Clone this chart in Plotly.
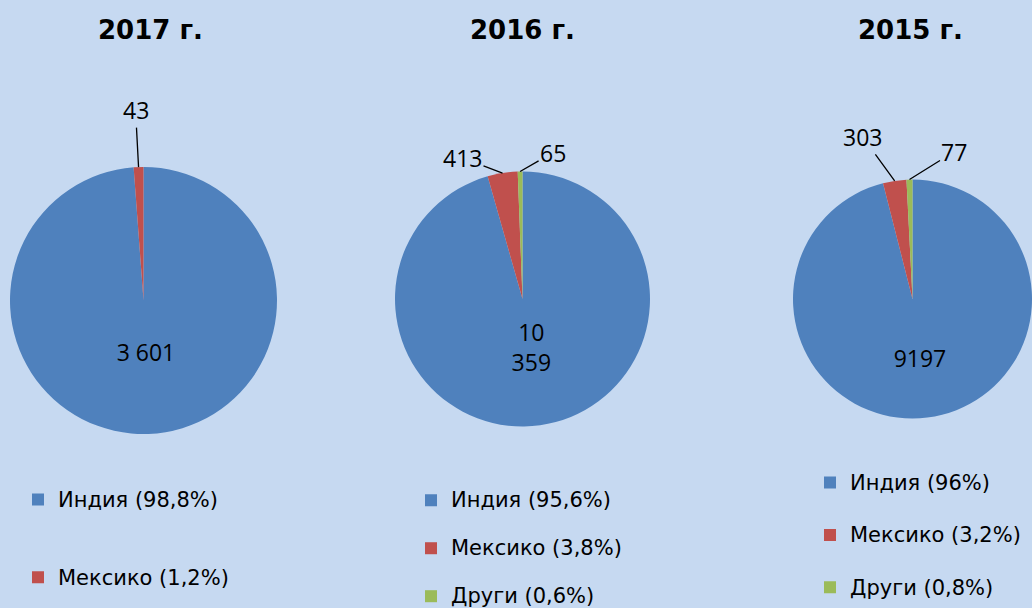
import math
import plotly.graph_objects as go

# ---------------- data ----------------
years = ["2017 г.", "2016 г.", "2015 г."]

countries_2017 = ["Индия", "Мексико"]
values_2017 = [3601, 43]
value_text_2017 = ["3 601", "43"]
pct_2017 = ["98,8%", "1,2%"]

countries_2016 = ["Индия", "Мексико", "Други"]
values_2016 = [10359, 413, 65]
value_text_2016 = ["10<br>359", "413", "65"]
pct_2016 = ["95,6%", "3,8%", "0,6%"]

countries_2015 = ["Индия", "Мексико", "Други"]
values_2015 = [9197, 303, 77]
value_text_2015 = ["9197", "303", "77"]
pct_2015 = ["96%", "3,2%", "0,8%"]

# ---------------- style / layout ----------------
W, H = 1032, 608
BG = "#C6D9F1"
colors = {"Индия": "#4F81BD", "Мексико": "#C0504D", "Други": "#9BBB59"}
LABEL_FONT = "Open Sans"
LEGEND_FONT = "DejaVu Sans"
TITLE_FONT = "DejaVu Sans"
VALUE_SIZE = 23
LEGEND_SIZE = 21

# pie geometry in pixels (center x, center y, radius)
geom = [(143.5, 300.5, 133.5), (522.5, 299.0, 127.5), (912.5, 299.0, 119.5)]
title_x = [150, 522, 910]
# blank lines appended below the inside label (lifts it inside the slice)
inside_pad_lines = [1, 1, 0]
# outside label offsets (px) for the small slices
label_offsets = [
    [(-3, -57)],
    [(-40, -15), (33, -19)],
    [(-32, -44), (45, -28)],
]
# legend: (x px of legend box, y px top, line-spacing font size, lines per item)
legend_pos = [(18, 480.5, 19.2, 3), (411, 482.5, 17.3, 2), (810, 463.7, 19.0, 2)]

datasets = [
    (countries_2017, values_2017, value_text_2017, pct_2017),
    (countries_2016, values_2016, value_text_2016, pct_2016),
    (countries_2015, values_2015, value_text_2015, pct_2015),
]

fig = go.Figure()
annotations = []
legend_names = ["legend", "legend2", "legend3"]

for k, (countries, values, vtext, pct) in enumerate(datasets):
    cx, cy, r = geom[k]
    dom_x = [max(0, (cx - r) / W), min(1, (cx + r) / W)]
    dom_y = [max(0, 1 - (cy + r) / H), min(1, 1 - (cy - r) / H)]
    n_lines = legend_pos[k][3]
    labels = []
    for j, (c, p) in enumerate(zip(countries, pct)):
        lab = f"<span style='font-size:{LEGEND_SIZE}px'>{c} ({p})</span>"
        if j < len(countries) - 1:
            lab += "<br>\u00a0" * (n_lines - 1)
        labels.append(lab)
    text = [vtext[0] + "<br>\u00a0" * inside_pad_lines[k]] + [""] * (len(values) - 1)
    fig.add_trace(go.Pie(
        labels=labels,
        values=values,
        text=text,
        textinfo="text",
        textposition="inside",
        insidetextorientation="horizontal",
        textfont=dict(family=LABEL_FONT, size=VALUE_SIZE, color="black"),
        marker=dict(colors=[colors[c] for c in countries], line=dict(width=0)),
        sort=False,
        direction="clockwise",
        rotation=0,
        domain=dict(x=dom_x, y=dom_y),
        legend=legend_names[k],
        hoverinfo="value+percent",
    ))
    total = sum(values)
    cum = 0
    for i, v in enumerate(values):
        if i > 0:
            theta = 2 * math.pi * (cum + v / 2) / total
            tx = cx + r * math.sin(theta)
            ty = cy - r * math.cos(theta)
            ax, ay = label_offsets[k][i - 1]
            annotations.append(dict(
                x=tx / W, y=1 - ty / H, xref="paper", yref="paper",
                text=vtext[i], showarrow=True, ax=ax, ay=ay,
                arrowhead=0, arrowwidth=1.3, arrowcolor="black",
                standoff=0, startstandoff=0,
                font=dict(family=LABEL_FONT, size=VALUE_SIZE, color="black"),
            ))
        cum += v
    annotations.append(dict(
        x=title_x[k] / W, y=1 - 30 / H, xref="paper", yref="paper",
        text=years[k], showarrow=False, xanchor="center", yanchor="middle",
        font=dict(family=TITLE_FONT, size=26, color="black", weight="bold"),
    ))

layout_legends = {}
for k, name in enumerate(legend_names):
    lx, ly, fs, _ = legend_pos[k]
    layout_legends[name] = dict(
        x=lx / W, y=1 - ly / H, xanchor="left", yanchor="top",
        font=dict(family=LEGEND_FONT, size=fs, color="black"),
        bgcolor="rgba(0,0,0,0)", borderwidth=0, valign="top",
        orientation="v",
    )

fig.update_layout(
    width=W, height=H,
    margin=dict(l=0, r=0, t=0, b=0, autoexpand=False),
    paper_bgcolor=BG, plot_bgcolor=BG,
    showlegend=True,
    annotations=annotations,
    **layout_legends,
)

fig.write_html(
    "out.html",
    config={"displayModeBar": False},
    post_script="document.body.style.margin='0px';document.body.style.overflow='hidden';",
)
